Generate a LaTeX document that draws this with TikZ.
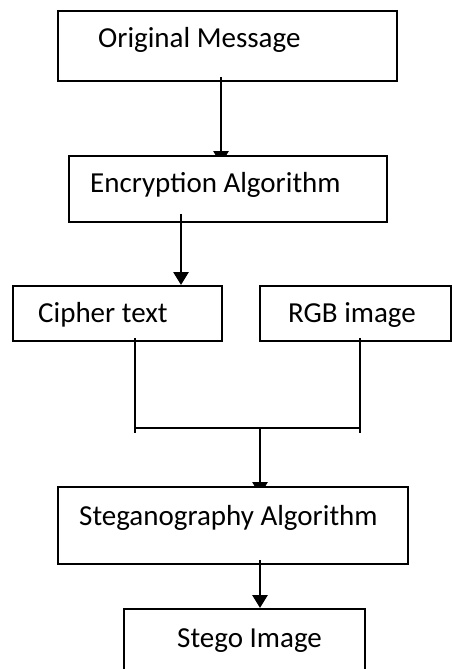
\documentclass[tikz,border=0pt]{standalone}
\usepackage{fontspec}
\setmainfont{Carlito}
\usetikzlibrary{arrows.meta,calc}
\begin{document}
\begin{tikzpicture}[x=1pt,y=-1pt,
  box/.style={draw,line width=1.8pt,inner sep=0pt,anchor=north west},
  lbl/.style={anchor=base west,inner sep=0pt,font=\fontsize{29}{35}\selectfont},
  arr/.style={line width=2.8pt,-{Triangle[width=15pt,length=13pt]}},
  joinline/.style={line width=1.6pt}]
\useasboundingbox (0,0) rectangle (451,669);
% boxes
\node[box,minimum width=339pt,minimum height=70pt] (om) at (57,10) {};
\node[box,minimum width=318pt,minimum height=66pt] (enc) at (68,155) {};
\node[box,minimum width=209pt,minimum height=55pt] (ct) at (12,285) {};
\node[box,minimum width=191pt,minimum height=55pt] (rgb) at (259,285) {};
\node[box,minimum width=350pt,minimum height=77pt] (steg) at (57,486) {};
\node[box,minimum width=241pt,minimum height=92pt] (sto) at (123,608) {};
% texts
\node[lbl] (omt) at (98,48) {Original Message};
\node[lbl] (enct) at (90,192) {Encryption Algorithm};
\node[lbl] (ctt) at (38,322) {Cipher text};
\node[lbl] (rgbt) at (288,322) {RGB image};
\node[lbl] (stegt) at (79,525) {Steganography Algorithm};
\node[lbl] (stot) at (177,647) {Stego Image};
% arrow 1 (tip hidden by box)
\begin{scope}
\clip (0,0) rectangle (451,155);
\draw[arr] ($(om.south west)+(164,-5)$) -- ($(enc.north west)+(153,9)$);
\end{scope}
% arrow 2
\draw[arr] ($(enc.south west)+(113,-9)$) -- ($(ct.north west)+(169,0)$);
% joining lines
\coordinate (jl) at (135,433);
\coordinate (jr) at (360,433);
\coordinate (jm) at (260,428);
\draw[joinline] ($(ct.south west)+(123,-4)$) -- (jl);
\draw[joinline] ($(rgb.south west)+(101,-4)$) -- (jr);
\draw[joinline] (jl |- jm) -- (jr |- jm);
% arrow 3 (tip hidden by box)
\begin{scope}
\clip (0,0) rectangle (451,486);
\draw[arr] (jm) -- ($(steg.north west)+(203,9)$);
\end{scope}
% arrow 4
\draw[arr] ($(steg.south west)+(203,-5)$) -- ($(sto.north west)+(137,0)$);
\end{tikzpicture}
\end{document}
